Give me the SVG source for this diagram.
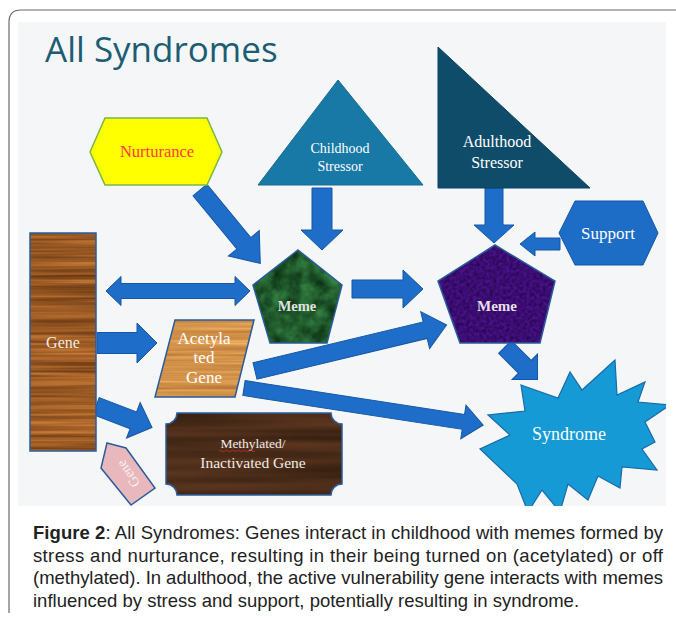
<svg xmlns="http://www.w3.org/2000/svg" width="676" height="619" viewBox="0 0 676 619">
<defs>
<style>
.arr{fill:#1e6dc8;stroke:#1656a6;stroke-width:1}
.lbl{font-family:"Liberation Serif","DejaVu Serif",serif;fill:#ffffff;text-anchor:middle}
.cap{font-family:"Liberation Sans",Arial,sans-serif;font-size:18.5px;fill:#222222}
.edge{fill:none;stroke:#2a5c9c;stroke-width:1.5}
filter{color-interpolation-filters:sRGB}
</style>
<filter id="wood" x="0" y="0" width="100%" height="100%" color-interpolation-filters="sRGB">
<feTurbulence type="fractalNoise" baseFrequency="0.006 0.28" numOctaves="2" seed="4" result="n"/>
<feColorMatrix in="n" type="matrix" values="0.6 0 0 0 0.3  0.42 0 0 0 0.14  0.22 0 0 0 0.03  0 0 0 0 1" result="c"/>
<feComposite in="c" in2="SourceGraphic" operator="in"/>
</filter>
<filter id="woodLight" x="0" y="0" width="100%" height="100%" color-interpolation-filters="sRGB">
<feTurbulence type="fractalNoise" baseFrequency="0.006 0.3" numOctaves="2" seed="7" result="n"/>
<feColorMatrix in="n" type="matrix" values="0.4 0 0 0 0.62  0.38 0 0 0 0.38  0.28 0 0 0 0.15  0 0 0 0 1" result="c"/>
<feComposite in="c" in2="SourceGraphic" operator="in"/>
</filter>
<filter id="woodDark" x="0" y="0" width="100%" height="100%" color-interpolation-filters="sRGB">
<feTurbulence type="fractalNoise" baseFrequency="0.004 0.12" numOctaves="2" seed="9" result="n"/>
<feColorMatrix in="n" type="matrix" values="0.25 0 0 0 0.17  0.15 0 0 0 0.1  0.1 0 0 0 0.05  0 0 0 0 1" result="c"/>
<feComposite in="c" in2="SourceGraphic" operator="in"/>
</filter>
<filter id="marbleGreen" x="0" y="0" width="100%" height="100%" color-interpolation-filters="sRGB">
<feTurbulence type="fractalNoise" baseFrequency="0.07" numOctaves="3" seed="2" result="n"/>
<feColorMatrix in="n" type="matrix" values="0.25 0 0 0 0  0.5 0 0 0 0.1  0.3 0 0 0 0.02  0 0 0 0 1" result="c"/>
<feComposite in="c" in2="SourceGraphic" operator="in"/>
</filter>
<filter id="purple" x="0" y="0" width="100%" height="100%" color-interpolation-filters="sRGB">
<feTurbulence type="fractalNoise" baseFrequency="0.3" numOctaves="2" seed="5" result="n"/>
<feColorMatrix in="n" type="matrix" values="0.2 0 0 0 0.13  0.1 0 0 0 0.0  0.35 0 0 0 0.27  0 0 0 0 1" result="c"/>
<feComposite in="c" in2="SourceGraphic" operator="in"/>
</filter>
<clipPath id="slideClip"><rect x="18" y="22" width="648" height="484"/></clipPath>
</defs>

<!-- frame -->
<path d="M9,613 L9,22 Q9,10 21,10 L676,10" fill="none" stroke="#6b6b6b" stroke-width="1.2"/>
<rect x="18" y="22" width="648" height="484" fill="#f4f6f8"/>
<text x="45" y="62" font-family="'Open Sans','Liberation Sans',sans-serif" font-size="35" fill="#1d5d74">All Syndromes</text>

<g id="connectors">
<polygon class="arr" transform="translate(200,190) rotate(50.6)" points="0,-9 69,-9 69,-20 95,0 69,20 69,9 0,9"/>
<polygon class="arr" transform="translate(322,188) rotate(90)" points="0,-10 42,-10 42,-21 62,0 42,21 42,10 0,10"/>
<polygon class="arr" points="106,291 121,276.5 121,283.5 235,283.5 235,276.5 250,291 235,305.5 235,298.5 121,298.5 121,305.5"/>
<polygon class="arr" points="352,280 403,280 403,270 423,289 403,308 403,298 352,298"/>
<polygon class="arr" points="485,188 503,188 503,225 514,225 494,243 474,225 485,225"/>
<polygon class="arr" points="560,238 535,238 535,232 520,244 535,256 535,250 560,250"/>
<polygon class="arr" points="97,332.5 137,332.5 137,323 157,343 137,363 137,353.5 97,353.5"/>
<polygon class="arr" transform="translate(96,406) rotate(21)" points="0,-9 40,-9 40,-19 60,0 40,19 40,9 0,9"/>
<polygon class="arr" transform="translate(255,371) rotate(-13.5)" points="0,-8.5 175,-8.5 175,-19 197,0 175,19 175,8.5 0,8.5"/>
<polygon class="arr" transform="translate(244,388) rotate(8.8)" points="0,-7.5 222,-7.5 222,-17 242,0 222,17 222,7.5 0,7.5"/>
<polygon class="arr" transform="translate(505,347) rotate(45)" points="0,-9 28,-9 28,-18 46,0 28,18 28,9 0,9"/>
</g>

<g id="nurturance">
<polygon points="90,152 105,118 207,118 222,152 207,185 105,185" fill="#ffff00" stroke="#7ab648" stroke-width="1.5"/>
<text x="157" y="157" font-family="'Liberation Serif',serif" font-size="16.5" fill="#ff3b3b" text-anchor="middle">Nurturance</text>
</g>

<g id="childhood-stressor">
<polygon points="338,80 423,185 258,185" fill="#1878a6" stroke="#1a6a94" stroke-width="1"/>
<text class="lbl" x="340" y="153" font-size="14">Childhood</text>
<text class="lbl" x="340" y="171" font-size="14">Stressor</text>
</g>

<g id="adulthood-stressor">
<polygon points="438,47 590,188 438,188" fill="#0e4c6a" stroke="#0b4360" stroke-width="1"/>
<text class="lbl" x="497" y="147" font-size="16">Adulthood</text>
<text class="lbl" x="497" y="168" font-size="16">Stressor</text>
</g>

<g id="support">
<polygon points="559,233 575,201 643,201 658,233 643,265 575,265" fill="#1d6cc6" stroke="#1656a6" stroke-width="1"/>
<text class="lbl" x="608" y="239" font-size="17">Support</text>
</g>

<g id="gene">
<rect x="30" y="233" width="66" height="218" fill="#9a5a26" filter="url(#wood)"/>
<rect class="edge" x="30" y="233" width="66" height="218"/>
<text class="lbl" x="63" y="348" font-size="16" style="fill:#f3ece2">Gene</text>
</g>

<g id="meme-childhood">
<polygon points="298,250 342,285 327,343 270,343 253,285" fill="#1f5f35" filter="url(#marbleGreen)"/>
<polygon class="edge" points="298,250 342,285 327,343 270,343 253,285"/>
<text class="lbl" x="297" y="311" font-size="14.5" font-weight="bold" style="fill:#dfe3de">Meme</text>
</g>

<g id="meme-adulthood">
<polygon points="495,245 555,281 540,343 460,343 438,281" fill="#3b1274" filter="url(#purple)"/>
<polygon class="edge" points="495,245 555,281 540,343 460,343 438,281"/>
<text class="lbl" x="497" y="311" font-size="15" font-weight="bold" style="fill:#e6dfe8">Meme</text>
</g>

<g id="acetylated-gene">
<polygon points="175,320 254,320 235,397 155,397" fill="#d19954" filter="url(#woodLight)"/>
<polygon class="edge" points="175,320 254,320 235,397 155,397"/>
<text class="lbl" x="204" y="344" font-size="17">Acetyla</text>
<text class="lbl" x="204" y="363" font-size="17">ted</text>
<text class="lbl" x="204" y="383" font-size="17">Gene</text>
</g>

<g id="methylated-gene">
<path d="M177,413 L331,413 A11,11 0 0 0 342,424 L342,484 A11,11 0 0 0 331,495 L177,495 A11,11 0 0 0 166,484 L166,424 A11,11 0 0 0 177,413 Z" fill="#4d2d1a" filter="url(#woodDark)"/>
<path class="edge" d="M177,413 L331,413 A11,11 0 0 0 342,424 L342,484 A11,11 0 0 0 331,495 L177,495 A11,11 0 0 0 166,484 L166,424 A11,11 0 0 0 177,413 Z"/>
<text class="lbl" x="253" y="448" font-size="13.5" style="fill:#f1ebe4">Methylated/</text>
<path d="M219,451 q1.5,-1.5 3,0 t3,0 t3,0 t3,0 t3,0 t3,0 t3,0 t3,0 t3,0 t3,0 t3,0 t3,0" fill="none" stroke="#d03030" stroke-width="0.8"/>
<text class="lbl" x="253" y="468" font-size="15.5" style="fill:#f1ebe4">Inactivated Gene</text>
</g>

<g id="gene-tag">
<polygon points="107,443 126,448 155,488 131,505 101,468" fill="#e8b8bc" stroke="#2a5c9c" stroke-width="1.5"/>
<text class="lbl" transform="translate(128,474) rotate(-124)" x="0" y="5" font-size="14" style="fill:#f8f2f2">Gene</text>
</g>

<g id="syndrome" clip-path="url(#slideClip)">
<polygon points="521,385 558,398 570,372 582,390 615,360 617,395 645,382 638,402 670,405 645,422 655,442 642,449 657,470 622,467 620,488 598,476 588,500 568,484 560,512 542,490 528,512 517,484 480,449 510,435 488,415 525,411" fill="#169ad6" stroke="#1a6aa8" stroke-width="1.2"/>
<text class="lbl" x="569" y="440" font-size="18">Syndrome</text>
</g>

<g id="caption">
<text class="cap" x="33" y="539" textLength="630" lengthAdjust="spacing"><tspan font-weight="bold">Figure 2</tspan>:  All Syndromes: Genes interact in childhood with memes formed by</text>
<text class="cap" x="33" y="562" textLength="630" lengthAdjust="spacing">stress and nurturance, resulting in their being turned on (acetylated) or off</text>
<text class="cap" x="33" y="584" textLength="630" lengthAdjust="spacing">(methylated). In adulthood, the active vulnerability gene interacts with memes</text>
<text class="cap" x="33" y="607">influenced by stress and support, potentially resulting in syndrome.</text>
</g>
</svg>
